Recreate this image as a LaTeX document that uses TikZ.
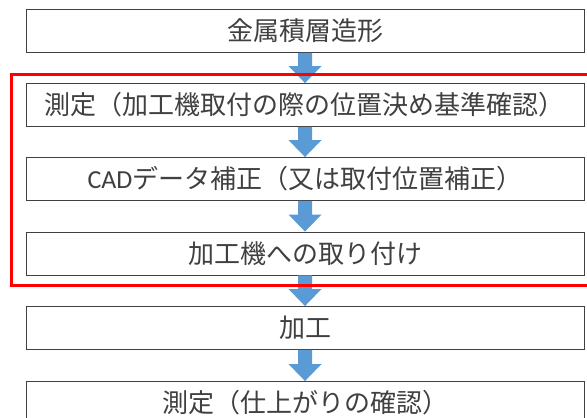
\documentclass[tikz,border=0pt]{standalone}
\usepackage{fontspec}
\setmainfont{Noto Sans CJK JP}
\newfontfamily\latfont{Carlito}
\usetikzlibrary{calc}
\definecolor{boxline}{HTML}{404040}
\definecolor{txtc}{HTML}{404040}
\definecolor{arrowc}{HTML}{5B9BD5}
\definecolor{redc}{HTML}{FF0000}
\tikzset{
  stepbox/.style={draw=boxline, line width=0.9pt, fill=white, minimum width=558pt, minimum height=43pt, inner sep=0pt, text=txtc, font=\fontsize{26}{28}\selectfont},
  flowarr/.style={fill=arrowc, draw=none},
  groupframe/.style={draw=redc, line width=3pt}
}
\newcommand{\flowarrow}[2]{%
  \fill[flowarr] ($(#1.south)+(-7,0)$) -- ($(#1.south)+(7,0)$) -- ($(#2.north)+(7,-17)$) -- ($(#2.north)+(16.5,-17)$) -- (#2.north) -- ($(#2.north)+(-16.5,-17)$) -- ($(#2.north)+(-7,-17)$) -- cycle;}
\begin{document}
\begin{tikzpicture}[x=1pt,y=-1pt]
\useasboundingbox (0,0) rectangle (587,418);
\node[stepbox] (b1) at (305,31) {金属積層造形};
\node[stepbox] (b2) at (305,105) {測定（加工機取付の際の位置決め基準確認）};
\node[stepbox] (b3) at (305,179) {{\latfont CAD}データ補正（又は取付位置補正）};
\node[stepbox] (b4) at (305,253.5) {加工機への取り付け};
\node[stepbox] (b5) at (305,328) {加工};
\node[stepbox] (b6) at (305,403) {測定（仕上がりの確認）};
\flowarrow{b1}{b2}
\flowarrow{b2}{b3}
\flowarrow{b3}{b4}
\flowarrow{b4}{b5}
\flowarrow{b5}{b6}
\coordinate (rtl) at (11,74);
\coordinate (rbr) at (600,285);
\draw[groupframe] (rtl) rectangle (rbr);
\end{tikzpicture}
\end{document}
